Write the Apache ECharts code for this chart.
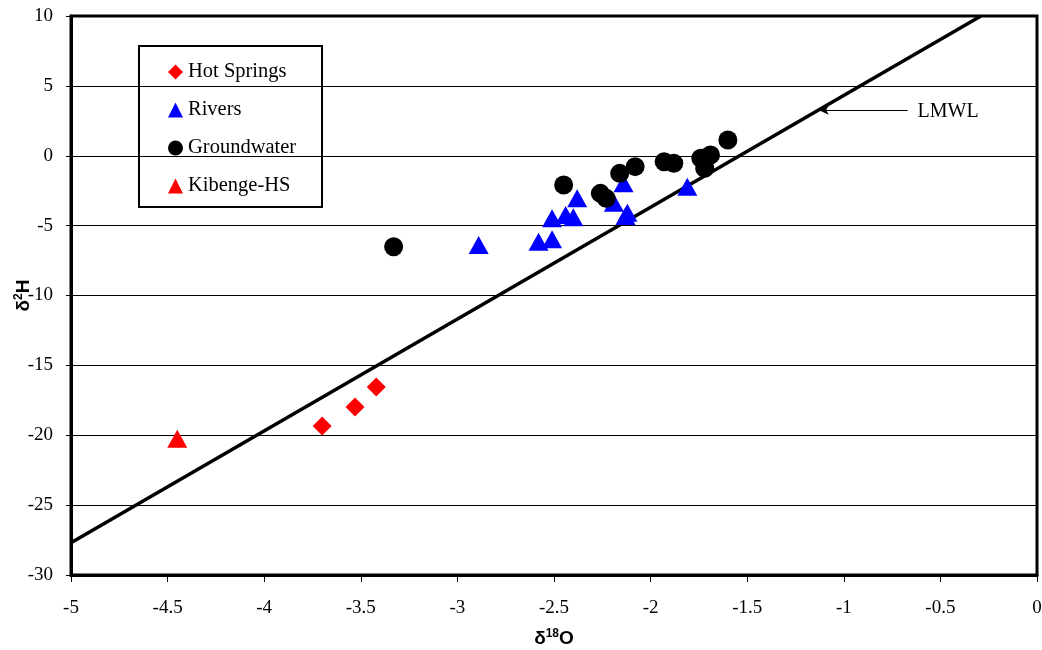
<!DOCTYPE html>
<html>
<head>
<meta charset="utf-8">
<script src="https://cdn.jsdelivr.net/npm/echarts@6/dist/echarts.min.js"></script>
<style>html,body{margin:0;padding:0;background:#fff}#c{width:1042px;height:650px}</style>
</head>
<body>
<div id="c"></div>
<script>
// ---- data ----
const hotSprings = [[-3.70, -19.34], [-3.53, -17.98], [-3.42, -16.55]];
const rivers = [
  [-2.89, -6.39], [-2.58, -6.15], [-2.51, -5.98], [-2.51, -4.48], [-2.44, -4.24],
  [-2.40, -4.40], [-2.38, -3.05], [-2.19, -3.36], [-2.14, -1.97], [-2.12, -4.07],
  [-2.13, -4.31], [-1.81, -2.21]
];
const groundwater = [
  [-3.33, -6.51], [-2.45, -2.09], [-2.26, -2.69], [-2.23, -3.05], [-2.16, -1.26],
  [-2.08, -0.78], [-1.93, -0.43], [-1.88, -0.54], [-1.74, -0.18], [-1.69, 0.05],
  [-1.72, -0.90], [-1.60, 1.13]
];
const kibengeHS = [[-4.45, -20.25]];
const lmwlX = [-5, -0.29];
const lmwlY = [-27.7, 10];
const lmwlArrowX = [-1.13, -0.67];
const lmwlArrowY = 3.27;
const seriesNames = ['Hot Springs', 'Rivers', 'Groundwater', 'Kibenge-HS'];

const serif = 'Liberation Serif';
const sans = 'Liberation Sans';
const nameRich = {
  a: { fontFamily: sans, fontWeight: 'bold', fontSize: 19, color: '#000' },
  s: { fontFamily: sans, fontWeight: 'bold', fontSize: 12, color: '#000', padding: [0, 0, 10, 0] }
};
const chart = echarts.init(document.getElementById('c'));
chart.setOption({
  animation: false,
  backgroundColor: '#fff',
  grid: { left: 71, right: 5, top: 16, bottom: 75, containLabel: false, outerBoundsMode: 'none',
    show: true, borderColor: '#000', borderWidth: 3, backgroundColor: 'transparent' },
  legend: {
    data: seriesNames, padding: 0,
    orient: 'vertical', left: 168, top: 61, itemWidth: 15, itemHeight: 15, itemGap: 16,
    textStyle: { fontFamily: serif, fontSize: 20.5, color: '#000', lineHeight: 22, padding: [0, 0, 0, 0] }
  },
  graphic: [{ type: 'rect', shape: { x: 139, y: 46, width: 183, height: 161 }, style: { fill: null, stroke: '#000', lineWidth: 2 }, z: 0 }],
  xAxis: {
    type: 'value', min: -5, max: 0, interval: 0.5,
    name: '{a|δ}{s|18}{a|O}', nameLocation: 'middle', nameGap: 53, nameMoveOverlap: false,
    nameTextStyle: { rich: nameRich },
    axisLine: { onZero: false, lineStyle: { color: '#000', width: 3 } },
    axisTick: { length: 7, lineStyle: { color: '#000', width: 1 } },
    axisLabel: { fontFamily: serif, fontSize: 19, color: '#000', margin: 24 },
    splitLine: { show: false }
  },
  yAxis: {
    type: 'value', min: -30, max: 10, interval: 5,
    name: '{a|δ}{s|2}{a|H}', nameLocation: 'middle', nameGap: 36, nameRotate: 90, nameMoveOverlap: false,
    nameTextStyle: { rich: nameRich },
    axisLine: { onZero: false, lineStyle: { color: '#000', width: 3 } },
    axisTick: { length: 5, lineStyle: { color: '#000', width: 1 } },
    axisLabel: { fontFamily: serif, fontSize: 19, color: '#000', margin: 18 },
    splitLine: { lineStyle: { color: '#000', width: 1 } }
  },
  series: [
    {
      name: 'LMWL', type: 'line', data: lmwlX.map((x, i) => [x, lmwlY[i]]),
      symbol: 'none', lineStyle: { color: '#000', width: 3.5 }, z: 3, silent: true,
      markLine: {
        silent: true, symbol: ['arrow', 'none'], symbolSize: [7, 10],
        lineStyle: { color: '#000', width: 1, type: 'solid' },
        label: { show: true, position: 'end', formatter: 'LMWL', fontFamily: serif, fontSize: 20, color: '#000', distance: 10, offset: [0, 2] },
        data: [[{ coord: [lmwlArrowX[0], lmwlArrowY] }, { coord: [lmwlArrowX[1], lmwlArrowY] }]]
      }
    },
    { name: 'Hot Springs', type: 'scatter', data: hotSprings, symbol: 'diamond', symbolSize: 19, itemStyle: { color: '#ff0000', opacity: 1 }, z: 5 },
    { name: 'Rivers', type: 'scatter', data: rivers, symbol: 'triangle', symbolSize: [20, 18], itemStyle: { color: '#0000ff', opacity: 1 }, z: 4 },
    { name: 'Groundwater', type: 'scatter', data: groundwater, symbol: 'circle', symbolSize: 19, itemStyle: { color: '#000', opacity: 1 }, z: 6 },
    { name: 'Kibenge-HS', type: 'scatter', data: kibengeHS, symbol: 'triangle', symbolSize: [20, 18], itemStyle: { color: '#ff0000', opacity: 1 }, z: 5 }
  ]
});
</script>
</body>
</html>
